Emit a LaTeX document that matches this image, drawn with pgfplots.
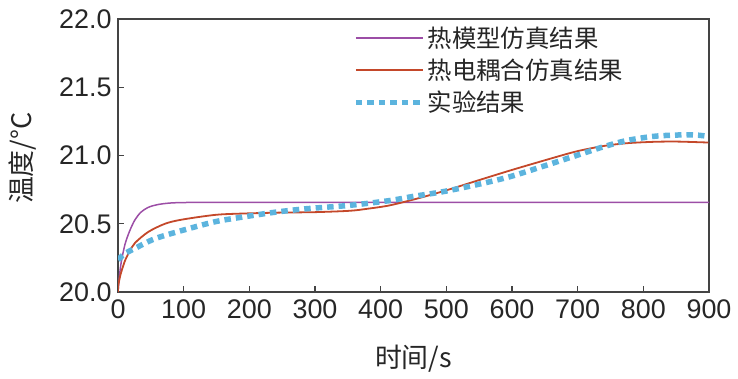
\documentclass[border=0pt]{standalone}
\usepackage{fontspec}
\setmainfont{Liberation Sans}
\newfontfamily\cjk{Noto Sans CJK SC}
\usepackage{pgfplots}
\pgfplotsset{compat=1.18}
\usetikzlibrary{calc}
\definecolor{cpurple}{RGB}{156,78,166}
\definecolor{cred}{RGB}{196,72,42}
\definecolor{cblue}{RGB}{92,180,222}
\definecolor{caxis}{RGB}{68,68,68}
\begin{document}
\begin{tikzpicture}
\begin{axis}[
  scale only axis,
  width=591bp, height=273bp,
  xmin=0, xmax=900, ymin=20, ymax=22,
  xtick={0,100,...,900},
  ytick={20,20.5,21,21.5,22},
  xtick pos=left, ytick pos=left,
  tick align=inside,
  major tick length=6bp,
  axis line style={caxis, line width=1.5bp},
  every tick/.style={caxis, line width=1.3bp},
  tick label style={font=\fontsize{27}{30}\selectfont, text=black!85},
  xticklabel style={yshift=-4bp},
  yticklabel style={xshift=-3bp},
  /pgf/number format/assume math mode=true,
  yticklabel style={/pgf/number format/.cd, fixed, fixed zerofill, precision=1},
  xticklabel style={/pgf/number format/.cd, fixed, precision=0},
  xlabel={\cjk 时间/s},
  ylabel={\cjk 温度/°C},
  label style={font=\cjk\fontsize{27}{31}\selectfont, text=black!85},
  xlabel style={at={(axis description cs:0.5,-0.245)}, anchor=center},
  ylabel style={at={(axis description cs:-0.162,0.49)}, anchor=center},
  legend style={at={(0.3976,0.978)}, anchor=north west, draw=none, fill=none,
    inner sep=0pt, font=\cjk\fontsize{24.5}{28}\selectfont, text=black!85,
    row sep=6bp},
  legend cell align=left,
  legend image code/.code={\draw[#1] (0bp,0bp) -- (67bp,0bp);},
]
\addplot[cpurple, line width=1.5bp, smooth] coordinates {
(0,20.0) (2,20.11) (5,20.22) (10.7,20.35) (18,20.45) (26,20.53) (35,20.585) (46,20.62) (60,20.64) (80,20.652) (110,20.656) (200,20.657) (500,20.657) (900,20.657)};
\addlegendentry{热模型仿真结果}
\addplot[cred, line width=1.8bp, smooth] coordinates {
(0,20.0) (0.5,20.05) (4,20.13) (10.7,20.23) (18,20.30) (26,20.36) (46,20.44) (71.6,20.50) (97,20.53) (148,20.565) (191,20.575) (250,20.582) (300,20.585) (353,20.595) (380,20.61) (414,20.635) (460,20.69) (500,20.745) (550,20.82) (597,20.89) (650,20.965) (698,21.03) (740,21.07) (775,21.09) (815,21.1) (851,21.102) (899,21.095)};
\addlegendentry{热电耦合仿真结果}
\addplot[cblue, line width=5.5bp, dash pattern=on 6.5bp off 5bp, smooth] coordinates {
(0,20.235) (10,20.28) (26,20.32) (56,20.39) (97,20.45) (148,20.515) (191,20.55) (240,20.585) (287,20.61) (353,20.635) (414,20.67) (449,20.70) (495,20.735) (550,20.79) (597,20.845) (650,20.925) (698,21.0) (740,21.065) (775,21.11) (815,21.14) (851,21.15) (880,21.15) (899,21.14)};
\addlegendentry{实验结果}
\end{axis}
\pgfresetboundingbox
\path ($(current axis.south west)+(-118bp,-86bp)$) rectangle ($(current axis.north east)+(29bp,19bp)$);
\end{tikzpicture}
\end{document}
